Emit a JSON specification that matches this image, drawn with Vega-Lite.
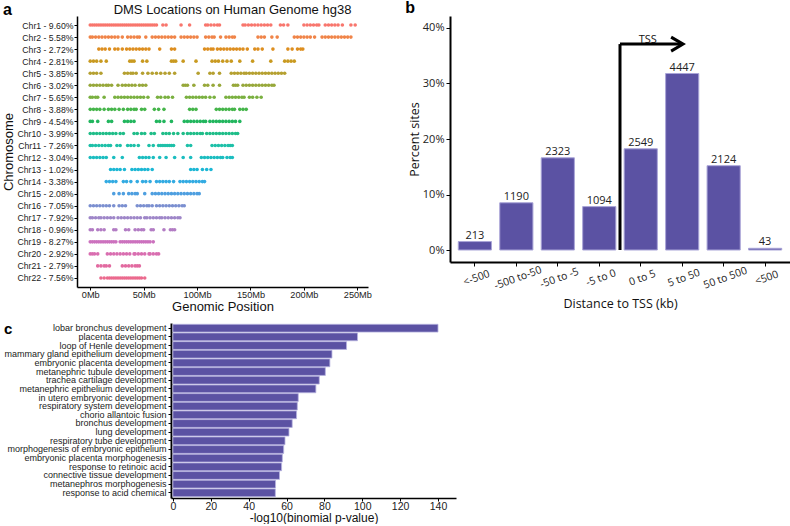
{
"$schema": "https://vega.github.io/schema/vega-lite/v6.json",
"background": "white",
"padding": {"left": 2, "top": 0, "right": 0, "bottom": 0},
"spacing": 3,
"config": {"view": {"stroke": null}, "axis": {"grid": false, "domainColor": "black", "tickColor": "black", "labelColor": "#222", "titleColor": "#111", "titleFontWeight": "normal"}},
"vconcat": [
{"hconcat": [
{
"width": 291, "height": 271,
"title": {"text": "a", "anchor": "start", "frame": "bounds", "font": "Liberation Sans", "fontSize": 16, "fontWeight": "bold", "color": "black", "offset": -15},
"data": {"values": [
{"c":1,"p":0},{"c":1,"p":2},{"c":1,"p":4},{"c":1,"p":6},{"c":1,"p":8},{"c":1,"p":10},{"c":1,"p":12},{"c":1,"p":14},{"c":1,"p":16},{"c":1,"p":18},{"c":1,"p":20},{"c":1,"p":22},{"c":1,"p":24},{"c":1,"p":26},{"c":1,"p":28},{"c":1,"p":30},{"c":1,"p":32},{"c":1,"p":34},{"c":1,"p":36},{"c":1,"p":38},{"c":1,"p":40},{"c":1,"p":42},{"c":1,"p":44},{"c":1,"p":46},{"c":1,"p":48},{"c":1,"p":50},{"c":1,"p":52},{"c":1,"p":54},{"c":1,"p":56},{"c":1,"p":58},{"c":1,"p":60},{"c":1,"p":62},{"c":1,"p":68},{"c":1,"p":71},{"c":1,"p":85},{"c":1,"p":93},{"c":1,"p":108},{"c":1,"p":110},{"c":1,"p":113},{"c":1,"p":116},{"c":1,"p":119},{"c":1,"p":121},{"c":1,"p":143},{"c":1,"p":145},{"c":1,"p":148},{"c":1,"p":151},{"c":1,"p":154},{"c":1,"p":157},{"c":1,"p":160},{"c":1,"p":163},{"c":1,"p":166},{"c":1,"p":169},{"c":1,"p":178},{"c":1,"p":181},{"c":1,"p":185},{"c":1,"p":200},{"c":1,"p":203},{"c":1,"p":206},{"c":1,"p":209},{"c":1,"p":212},{"c":1,"p":214},{"c":1,"p":220},{"c":1,"p":223},{"c":1,"p":226},{"c":1,"p":229},{"c":1,"p":232},{"c":1,"p":236},{"c":1,"p":244},{"c":1,"p":248},
{"c":2,"p":0},{"c":2,"p":2},{"c":2,"p":5},{"c":2,"p":8},{"c":2,"p":11},{"c":2,"p":14},{"c":2,"p":17},{"c":2,"p":20},{"c":2,"p":23},{"c":2,"p":26},{"c":2,"p":30},{"c":2,"p":35},{"c":2,"p":38},{"c":2,"p":41},{"c":2,"p":44},{"c":2,"p":46},{"c":2,"p":52},{"c":2,"p":58},{"c":2,"p":61},{"c":2,"p":64},{"c":2,"p":67},{"c":2,"p":70},{"c":2,"p":73},{"c":2,"p":76},{"c":2,"p":79},{"c":2,"p":85},{"c":2,"p":88},{"c":2,"p":91},{"c":2,"p":94},{"c":2,"p":97},{"c":2,"p":100},{"c":2,"p":108},{"c":2,"p":111},{"c":2,"p":114},{"c":2,"p":116},{"c":2,"p":122},{"c":2,"p":127},{"c":2,"p":130},{"c":2,"p":133},{"c":2,"p":135},{"c":2,"p":157},{"c":2,"p":160},{"c":2,"p":163},{"c":2,"p":170},{"c":2,"p":175},{"c":2,"p":191},{"c":2,"p":194},{"c":2,"p":197},{"c":2,"p":200},{"c":2,"p":203},{"c":2,"p":206},{"c":2,"p":210},{"c":2,"p":217},{"c":2,"p":220},{"c":2,"p":223},{"c":2,"p":226},{"c":2,"p":229},{"c":2,"p":232},{"c":2,"p":235},{"c":2,"p":238},{"c":2,"p":241},{"c":2,"p":244},
{"c":3,"p":8},{"c":3,"p":11},{"c":3,"p":14},{"c":3,"p":18},{"c":3,"p":23},{"c":3,"p":26},{"c":3,"p":30},{"c":3,"p":34},{"c":3,"p":37},{"c":3,"p":40},{"c":3,"p":43},{"c":3,"p":46},{"c":3,"p":49},{"c":3,"p":52},{"c":3,"p":55},{"c":3,"p":65},{"c":3,"p":76},{"c":3,"p":79},{"c":3,"p":107},{"c":3,"p":110},{"c":3,"p":113},{"c":3,"p":115},{"c":3,"p":119},{"c":3,"p":122},{"c":3,"p":125},{"c":3,"p":128},{"c":3,"p":131},{"c":3,"p":134},{"c":3,"p":137},{"c":3,"p":140},{"c":3,"p":143},{"c":3,"p":147},{"c":3,"p":154},{"c":3,"p":157},{"c":3,"p":161},{"c":3,"p":171},{"c":3,"p":185},{"c":3,"p":189},{"c":3,"p":194},{"c":3,"p":197},{"c":3,"p":199},
{"c":4,"p":0},{"c":4,"p":3},{"c":4,"p":6},{"c":4,"p":10},{"c":4,"p":15},{"c":4,"p":37},{"c":4,"p":39},{"c":4,"p":41},{"c":4,"p":49},{"c":4,"p":53},{"c":4,"p":76},{"c":4,"p":78},{"c":4,"p":80},{"c":4,"p":87},{"c":4,"p":99},{"c":4,"p":114},{"c":4,"p":117},{"c":4,"p":120},{"c":4,"p":124},{"c":4,"p":128},{"c":4,"p":132},{"c":4,"p":140},{"c":4,"p":152},{"c":4,"p":169},{"c":4,"p":182},{"c":4,"p":185},{"c":4,"p":188},{"c":4,"p":191},
{"c":5,"p":0},{"c":5,"p":3},{"c":5,"p":6},{"c":5,"p":10},{"c":5,"p":32},{"c":5,"p":35},{"c":5,"p":38},{"c":5,"p":40},{"c":5,"p":43},{"c":5,"p":49},{"c":5,"p":54},{"c":5,"p":58},{"c":5,"p":62},{"c":5,"p":66},{"c":5,"p":70},{"c":5,"p":74},{"c":5,"p":79},{"c":5,"p":101},{"c":5,"p":112},{"c":5,"p":115},{"c":5,"p":121},{"c":5,"p":132},{"c":5,"p":135},{"c":5,"p":138},{"c":5,"p":141},{"c":5,"p":144},{"c":5,"p":146},{"c":5,"p":149},{"c":5,"p":152},{"c":5,"p":155},{"c":5,"p":158},{"c":5,"p":161},{"c":5,"p":164},{"c":5,"p":167},{"c":5,"p":170},{"c":5,"p":173},{"c":5,"p":176},{"c":5,"p":179},{"c":5,"p":182},
{"c":6,"p":0},{"c":6,"p":3},{"c":6,"p":6},{"c":6,"p":9},{"c":6,"p":12},{"c":6,"p":15},{"c":6,"p":17},{"c":6,"p":20},{"c":6,"p":26},{"c":6,"p":30},{"c":6,"p":33},{"c":6,"p":36},{"c":6,"p":39},{"c":6,"p":42},{"c":6,"p":46},{"c":6,"p":49},{"c":6,"p":52},{"c":6,"p":87},{"c":6,"p":89},{"c":6,"p":91},{"c":6,"p":97},{"c":6,"p":107},{"c":6,"p":110},{"c":6,"p":115},{"c":6,"p":121},{"c":6,"p":134},{"c":6,"p":136},{"c":6,"p":138},{"c":6,"p":143},{"c":6,"p":146},{"c":6,"p":149},{"c":6,"p":152},{"c":6,"p":155},{"c":6,"p":158},{"c":6,"p":161},{"c":6,"p":164},{"c":6,"p":167},{"c":6,"p":170},{"c":6,"p":172},
{"c":7,"p":0},{"c":7,"p":2},{"c":7,"p":5},{"c":7,"p":7},{"c":7,"p":13},{"c":7,"p":23},{"c":7,"p":26},{"c":7,"p":29},{"c":7,"p":32},{"c":7,"p":35},{"c":7,"p":38},{"c":7,"p":41},{"c":7,"p":44},{"c":7,"p":47},{"c":7,"p":50},{"c":7,"p":54},{"c":7,"p":63},{"c":7,"p":66},{"c":7,"p":70},{"c":7,"p":73},{"c":7,"p":77},{"c":7,"p":90},{"c":7,"p":93},{"c":7,"p":96},{"c":7,"p":99},{"c":7,"p":102},{"c":7,"p":105},{"c":7,"p":108},{"c":7,"p":112},{"c":7,"p":116},{"c":7,"p":127},{"c":7,"p":130},{"c":7,"p":133},{"c":7,"p":136},{"c":7,"p":139},{"c":7,"p":142},{"c":7,"p":144},{"c":7,"p":149},{"c":7,"p":152},{"c":7,"p":156},{"c":7,"p":160},
{"c":8,"p":0},{"c":8,"p":3},{"c":8,"p":6},{"c":8,"p":9},{"c":8,"p":13},{"c":8,"p":17},{"c":8,"p":20},{"c":8,"p":23},{"c":8,"p":27},{"c":8,"p":31},{"c":8,"p":35},{"c":8,"p":38},{"c":8,"p":41},{"c":8,"p":43},{"c":8,"p":48},{"c":8,"p":51},{"c":8,"p":60},{"c":8,"p":64},{"c":8,"p":69},{"c":8,"p":93},{"c":8,"p":96},{"c":8,"p":99},{"c":8,"p":118},{"c":8,"p":121},{"c":8,"p":124},{"c":8,"p":127},{"c":8,"p":130},{"c":8,"p":133},{"c":8,"p":135},{"c":8,"p":140},{"c":8,"p":143},{"c":8,"p":146},
{"c":9,"p":0},{"c":9,"p":2},{"c":9,"p":7},{"c":9,"p":17},{"c":9,"p":20},{"c":9,"p":32},{"c":9,"p":35},{"c":9,"p":38},{"c":9,"p":41},{"c":9,"p":62},{"c":9,"p":65},{"c":9,"p":69},{"c":9,"p":76},{"c":9,"p":88},{"c":9,"p":91},{"c":9,"p":94},{"c":9,"p":97},{"c":9,"p":100},{"c":9,"p":103},{"c":9,"p":106},{"c":9,"p":108},{"c":9,"p":112},{"c":9,"p":115},{"c":9,"p":118},{"c":9,"p":121},{"c":9,"p":124},{"c":9,"p":127},{"c":9,"p":130},{"c":9,"p":133},{"c":9,"p":136},{"c":9,"p":140},
{"c":10,"p":0},{"c":10,"p":3},{"c":10,"p":6},{"c":10,"p":9},{"c":10,"p":12},{"c":10,"p":15},{"c":10,"p":18},{"c":10,"p":21},{"c":10,"p":24},{"c":10,"p":28},{"c":10,"p":31},{"c":10,"p":41},{"c":10,"p":44},{"c":10,"p":48},{"c":10,"p":51},{"c":10,"p":57},{"c":10,"p":60},{"c":10,"p":68},{"c":10,"p":71},{"c":10,"p":74},{"c":10,"p":78},{"c":10,"p":82},{"c":10,"p":87},{"c":10,"p":91},{"c":10,"p":94},{"c":10,"p":97},{"c":10,"p":100},{"c":10,"p":103},{"c":10,"p":105},{"c":10,"p":109},{"c":10,"p":112},{"c":10,"p":115},{"c":10,"p":118},{"c":10,"p":121},{"c":10,"p":124},{"c":10,"p":127},{"c":10,"p":130},{"c":10,"p":133},{"c":10,"p":136},{"c":10,"p":138},
{"c":11,"p":0},{"c":11,"p":2},{"c":11,"p":5},{"c":11,"p":8},{"c":11,"p":11},{"c":11,"p":14},{"c":11,"p":17},{"c":11,"p":19},{"c":11,"p":25},{"c":11,"p":28},{"c":11,"p":35},{"c":11,"p":38},{"c":11,"p":41},{"c":11,"p":45},{"c":11,"p":55},{"c":11,"p":59},{"c":11,"p":64},{"c":11,"p":66},{"c":11,"p":68},{"c":11,"p":70},{"c":11,"p":72},{"c":11,"p":74},{"c":11,"p":76},{"c":11,"p":78},{"c":11,"p":91},{"c":11,"p":94},{"c":11,"p":114},{"c":11,"p":117},{"c":11,"p":120},{"c":11,"p":123},{"c":11,"p":126},{"c":11,"p":129},{"c":11,"p":131},{"c":11,"p":133},
{"c":12,"p":0},{"c":12,"p":3},{"c":12,"p":6},{"c":12,"p":9},{"c":12,"p":12},{"c":12,"p":15},{"c":12,"p":22},{"c":12,"p":30},{"c":12,"p":46},{"c":12,"p":49},{"c":12,"p":52},{"c":12,"p":55},{"c":12,"p":59},{"c":12,"p":65},{"c":12,"p":71},{"c":12,"p":79},{"c":12,"p":87},{"c":12,"p":94},{"c":12,"p":104},{"c":12,"p":107},{"c":12,"p":110},{"c":12,"p":113},{"c":12,"p":116},{"c":12,"p":119},{"c":12,"p":122},{"c":12,"p":124},{"c":12,"p":128},{"c":12,"p":131},{"c":12,"p":133},
{"c":13,"p":19},{"c":13,"p":22},{"c":13,"p":25},{"c":13,"p":28},{"c":13,"p":32},{"c":13,"p":39},{"c":13,"p":42},{"c":13,"p":45},{"c":13,"p":48},{"c":13,"p":51},{"c":13,"p":54},{"c":13,"p":58},{"c":13,"p":94},{"c":13,"p":97},{"c":13,"p":100},{"c":13,"p":105},{"c":13,"p":109},{"c":13,"p":113},
{"c":14,"p":15},{"c":14,"p":18},{"c":14,"p":21},{"c":14,"p":24},{"c":14,"p":31},{"c":14,"p":34},{"c":14,"p":38},{"c":14,"p":44},{"c":14,"p":49},{"c":14,"p":52},{"c":14,"p":56},{"c":14,"p":62},{"c":14,"p":65},{"c":14,"p":68},{"c":14,"p":71},{"c":14,"p":74},{"c":14,"p":78},{"c":14,"p":84},{"c":14,"p":87},{"c":14,"p":90},{"c":14,"p":93},{"c":14,"p":96},{"c":14,"p":99},{"c":14,"p":102},{"c":14,"p":105},{"c":14,"p":107},
{"c":15,"p":22},{"c":15,"p":27},{"c":15,"p":31},{"c":15,"p":36},{"c":15,"p":39},{"c":15,"p":42},{"c":15,"p":44},{"c":15,"p":51},{"c":15,"p":58},{"c":15,"p":61},{"c":15,"p":64},{"c":15,"p":67},{"c":15,"p":70},{"c":15,"p":73},{"c":15,"p":76},{"c":15,"p":79},{"c":15,"p":82},{"c":15,"p":85},{"c":15,"p":88},{"c":15,"p":91},{"c":15,"p":94},{"c":15,"p":97},{"c":15,"p":100},{"c":15,"p":102},
{"c":16,"p":0},{"c":16,"p":3},{"c":16,"p":6},{"c":16,"p":9},{"c":16,"p":12},{"c":16,"p":15},{"c":16,"p":18},{"c":16,"p":22},{"c":16,"p":27},{"c":16,"p":30},{"c":16,"p":33},{"c":16,"p":44},{"c":16,"p":47},{"c":16,"p":50},{"c":16,"p":53},{"c":16,"p":55},{"c":16,"p":58},{"c":16,"p":62},{"c":16,"p":65},{"c":16,"p":68},{"c":16,"p":71},{"c":16,"p":74},{"c":16,"p":77},{"c":16,"p":80},{"c":16,"p":83},{"c":16,"p":86},{"c":16,"p":88},
{"c":17,"p":0},{"c":17,"p":2},{"c":17,"p":5},{"c":17,"p":8},{"c":17,"p":10},{"c":17,"p":13},{"c":17,"p":16},{"c":17,"p":19},{"c":17,"p":22},{"c":17,"p":26},{"c":17,"p":29},{"c":17,"p":32},{"c":17,"p":35},{"c":17,"p":38},{"c":17,"p":41},{"c":17,"p":44},{"c":17,"p":47},{"c":17,"p":51},{"c":17,"p":53},{"c":17,"p":56},{"c":17,"p":59},{"c":17,"p":62},{"c":17,"p":65},{"c":17,"p":67},{"c":17,"p":70},{"c":17,"p":73},{"c":17,"p":76},{"c":17,"p":79},{"c":17,"p":82},{"c":17,"p":84},
{"c":18,"p":0},{"c":18,"p":2},{"c":18,"p":7},{"c":18,"p":10},{"c":18,"p":13},{"c":18,"p":22},{"c":18,"p":24},{"c":18,"p":33},{"c":18,"p":36},{"c":18,"p":42},{"c":18,"p":45},{"c":18,"p":48},{"c":18,"p":50},{"c":18,"p":57},{"c":18,"p":59},{"c":18,"p":69},{"c":18,"p":75},{"c":18,"p":77},{"c":18,"p":79},
{"c":19,"p":0},{"c":19,"p":2},{"c":19,"p":4},{"c":19,"p":6},{"c":19,"p":8},{"c":19,"p":10},{"c":19,"p":12},{"c":19,"p":14},{"c":19,"p":16},{"c":19,"p":18},{"c":19,"p":20},{"c":19,"p":22},{"c":19,"p":24},{"c":19,"p":28},{"c":19,"p":30},{"c":19,"p":32},{"c":19,"p":34},{"c":19,"p":36},{"c":19,"p":38},{"c":19,"p":40},{"c":19,"p":42},{"c":19,"p":44},{"c":19,"p":46},{"c":19,"p":48},{"c":19,"p":50},{"c":19,"p":52},{"c":19,"p":54},{"c":19,"p":56},{"c":19,"p":59},
{"c":20,"p":0},{"c":20,"p":2},{"c":20,"p":4},{"c":20,"p":7},{"c":20,"p":16},{"c":20,"p":19},{"c":20,"p":22},{"c":20,"p":25},{"c":20,"p":28},{"c":20,"p":31},{"c":20,"p":34},{"c":20,"p":37},{"c":20,"p":41},{"c":20,"p":42},{"c":20,"p":45},{"c":20,"p":48},{"c":20,"p":51},{"c":20,"p":55},{"c":20,"p":56},{"c":20,"p":59},{"c":20,"p":62},{"c":20,"p":64},
{"c":21,"p":7},{"c":21,"p":10},{"c":21,"p":13},{"c":21,"p":15},{"c":21,"p":18},{"c":21,"p":30},{"c":21,"p":33},{"c":21,"p":36},{"c":21,"p":39},{"c":21,"p":42},{"c":21,"p":44},{"c":21,"p":46},
{"c":22,"p":10},{"c":22,"p":13},{"c":22,"p":16},{"c":22,"p":18},{"c":22,"p":20},{"c":22,"p":22},{"c":22,"p":24},{"c":22,"p":26},{"c":22,"p":28},{"c":22,"p":30},{"c":22,"p":32},{"c":22,"p":34},{"c":22,"p":36},{"c":22,"p":38},{"c":22,"p":40},{"c":22,"p":42},{"c":22,"p":44},{"c":22,"p":46},{"c":22,"p":48},{"c":22,"p":51}
]},
"layer": [
{"mark": {"type": "circle", "size": 13, "opacity": 1},
 "encoding": {
  "x": {"field": "p", "type": "quantitative", "scale": {"domain": [-12.4, 260], "nice": false, "zero": false},
        "axis": {"values": [0, 50, 100, 150, 200, 250], "labelExpr": "datum.value + 'Mb'", "title": "Genomic Position", "labelFont": "Liberation Sans", "labelFontSize": 9.2, "titleFont": "Liberation Sans", "titleFontSize": 13, "domainWidth": 1.5, "tickSize": 3, "labelPadding": 0, "titlePadding": 1, "labelFlush": false}},
  "y": {"field": "c", "type": "ordinal", "scale": {"type": "point", "padding": 0.75},
        "axis": {"labelExpr": "['', 'Chr1 - 9.60%', 'Chr2 - 5.58%', 'Chr3 - 2.72%', 'Chr4 - 2.81%', 'Chr5 - 3.85%', 'Chr6 - 3.02%', 'Chr7 - 5.65%', 'Chr8 - 3.88%', 'Chr9 - 4.54%', 'Chr10 - 3.99%', 'Chr11 - 7.26%', 'Chr12 - 3.04%', 'Chr13 - 1.02%', 'Chr14 - 3.38%', 'Chr15 - 2.08%', 'Chr16 - 7.05%', 'Chr17 - 7.92%', 'Chr18 - 0.96%', 'Chr19 - 8.27%', 'Chr20 - 2.92%', 'Chr21 - 2.79%', 'Chr22 - 7.56%'][datum.value]", "title": "Chromosome", "labelFont": "Liberation Sans", "labelFontSize": 8.7, "titleFont": "Liberation Sans", "titleFontSize": 13, "domainWidth": 1.5, "tickSize": 3, "labelPadding": 1, "titlePadding": 1}},
  "color": {"field": "c", "type": "ordinal", "scale": {"domain": [1,2,3,4,5,6,7,8,9,10,11,12,13,14,15,16,17,18,19,20,21,22], "range": ["#F8766D","#F08448","#DD8E1F","#C99A20","#B5A030","#97A83A","#7AB040","#45B54A","#22B65E","#1FBD88","#1DC0A8","#1BBDC0","#1CB7D5","#33ABE2","#4E9FE0","#7B8FD0","#9E86C8","#B37DC4","#CC72BE","#D96EB0","#E26AA0","#EB6A8E"]}, "legend": null}
 }},
{"mark": {"type": "circle", "opacity": 0},
 "encoding": {
  "x": {"field": "p", "type": "quantitative", "axis": {"orient": "top", "domain": false, "ticks": false, "labels": false, "title": "DMS Locations on Human Genome hg38", "titleFont": "Liberation Sans", "titleFontSize": 13, "titlePadding": 0, "titleX": 155}}
 }}
],
"resolve": {"axis": {"x": "independent"}}
},
{
"width": 340, "height": 246,
"title": {"text": "b", "anchor": "start", "frame": "bounds", "font": "Liberation Sans", "fontSize": 16, "fontWeight": "bold", "color": "black", "offset": 0, "dx": -3},
"layer": [
{"data": {"values": [
 {"cat": "<-500", "n": 213, "pct": 0.01523},
 {"cat": "-500 to-50", "n": 1190, "pct": 0.0851},
 {"cat": "-50 to -5", "n": 2323, "pct": 0.1661},
 {"cat": "-5 to 0", "n": 1094, "pct": 0.0782},
 {"cat": "0 to 5", "n": 2549, "pct": 0.1823},
 {"cat": "5 to 50", "n": 4447, "pct": 0.3180},
 {"cat": "50 to 500", "n": 2124, "pct": 0.1519},
 {"cat": "<500", "n": 43, "pct": 0.00308}
 ]},
 "layer": [
  {"mark": {"type": "bar", "color": "#5B52A3", "stroke": "#aaa5d8", "strokeWidth": 1},
   "encoding": {
    "x": {"field": "cat", "type": "nominal", "sort": null, "scale": {"paddingInner": 0.2, "paddingOuter": 0.2},
          "axis": {"title": "Distance to TSS (kb)", "labelAngle": -20, "labelAlign": "center", "labelBaseline": "top", "labelFont": "Open Sans", "labelFontSize": 10.5, "titleFont": "Open Sans", "titleFontSize": 12.5, "domainWidth": 2, "tickSize": 4, "labelPadding": 7, "titlePadding": 6}},
    "y": {"field": "pct", "type": "quantitative", "scale": {"domain": [-0.0216, 0.4216], "nice": false, "zero": false},
          "axis": {"values": [0, 0.1, 0.2, 0.3, 0.4], "format": ".0%", "title": "Percent sites", "labelFont": "Open Sans", "labelFontSize": 11, "titleFont": "Open Sans", "titleFontSize": 12.5, "domainWidth": 2, "tickSize": 4, "labelPadding": 2, "titlePadding": 1}}
   }},
  {"mark": {"type": "text", "dy": -6, "font": "Open Sans", "fontSize": 11, "color": "#222"},
   "encoding": {
    "x": {"field": "cat", "type": "nominal", "sort": null},
    "y": {"field": "pct", "type": "quantitative"},
    "text": {"field": "n", "type": "quantitative"}
   }}
 ]},
{"data": {"values": [{"x": 4.5, "y": 0, "y2": 0.371}]},
 "mark": {"type": "rule", "strokeWidth": 3, "color": "black"},
 "encoding": {
  "x": {"field": "x", "type": "quantitative", "scale": {"domain": [0.4, 8.6], "nice": false, "zero": false}, "axis": null},
  "y": {"field": "y", "type": "quantitative", "axis": null},
  "y2": {"field": "y2"}
 }},
{"data": {"values": [{"x": 4.5, "x2": 6.0, "y": 0.371}]},
 "mark": {"type": "rule", "strokeWidth": 3, "color": "black"},
 "encoding": {
  "x": {"field": "x", "type": "quantitative", "scale": {"domain": [0.4, 8.6], "nice": false, "zero": false}, "axis": null},
  "x2": {"field": "x2"},
  "y": {"field": "y", "type": "quantitative", "axis": null}
 }},
{"data": {"values": [{"x": 6.02, "y": 0.371}]},
 "mark": {"type": "point", "shape": "M-1.7,-1L0,0L-1.7,1", "filled": false, "size": 196, "strokeWidth": 3, "color": "black", "opacity": 1},
 "encoding": {
  "x": {"field": "x", "type": "quantitative", "scale": {"domain": [0.4, 8.6], "nice": false, "zero": false}, "axis": null},
  "y": {"field": "y", "type": "quantitative", "axis": null}
 }},
{"data": {"values": [{"x": 5.17, "y": 0.371, "t": "TSS"}]},
 "mark": {"type": "text", "font": "Open Sans", "fontSize": 11, "color": "#111", "baseline": "alphabetic", "dy": -1},
 "encoding": {
  "x": {"field": "x", "type": "quantitative", "scale": {"domain": [0.4, 8.6], "nice": false, "zero": false}, "axis": null},
  "y": {"field": "y", "type": "quantitative", "axis": null},
  "text": {"field": "t"}
 }}
],
"resolve": {"scale": {"x": "independent"}, "axis": {"x": "independent", "y": "independent"}}
}
], "spacing": 82, "bounds": "flush"},
{"hconcat": [
{"width": 1, "height": 1, "data": {"values": [{"t": ""}]}, "mark": {"type": "text"}, "encoding": {"text": {"field": "t"}}},
{
"width": 285, "height": 175,
"title": {"text": "c", "anchor": "start", "frame": "bounds", "font": "Liberation Sans", "fontSize": 15, "fontWeight": "bold", "color": "black", "offset": -14},
"data": {"values": [
 {"term": "lobar bronchus development", "v": 140},
 {"term": "placenta development", "v": 97.5},
 {"term": "loop of Henle development", "v": 91.7},
 {"term": "mammary gland epithelium development", "v": 84.0},
 {"term": "embryonic placenta development", "v": 82.9},
 {"term": "metanephric tubule development", "v": 80.5},
 {"term": "trachea cartilage development", "v": 77.3},
 {"term": "metanephric epithelium development", "v": 75.5},
 {"term": "in utero embryonic development", "v": 66.2},
 {"term": "respiratory system development", "v": 65.7},
 {"term": "chorio allantoic fusion", "v": 65.3},
 {"term": "bronchus development", "v": 63.0},
 {"term": "lung development", "v": 61.3},
 {"term": "respiratory tube development", "v": 59.2},
 {"term": "morphogenesis of embryonic epithelium", "v": 58.5},
 {"term": "embryonic placenta morphogenesis", "v": 57.8},
 {"term": "response to retinoic acid", "v": 57.4},
 {"term": "connective tissue development", "v": 56.3},
 {"term": "metanephros morphogenesis", "v": 54.2},
 {"term": "response to acid chemical", "v": 54.1}
]},
"mark": {"type": "bar", "color": "#5B52A3", "stroke": "#b8b4e0", "strokeWidth": 0.8},
"encoding": {
 "y": {"field": "term", "type": "nominal", "sort": null, "scale": {"paddingInner": 0.1, "paddingOuter": 0.15},
       "axis": {"title": null, "labelFont": "Liberation Sans", "labelFontSize": 9, "labelLimit": 300, "tickSize": 3, "labelPadding": 2, "domainWidth": 2}},
 "x": {"field": "v", "type": "quantitative", "scale": {"domain": [-1, 149.5], "nice": false, "zero": false},
       "axis": {"values": [0, 20, 40, 60, 80, 100, 120, 140], "title": "-log10(binomial p-value)", "labelFont": "Liberation Sans", "labelFontSize": 10.5, "titleFont": "Liberation Sans", "titleFontSize": 12, "tickSize": 3, "labelPadding": 0, "titlePadding": 1, "domainWidth": 1.5}}
}
}
], "spacing": 93, "bounds": "flush"}
]
}
